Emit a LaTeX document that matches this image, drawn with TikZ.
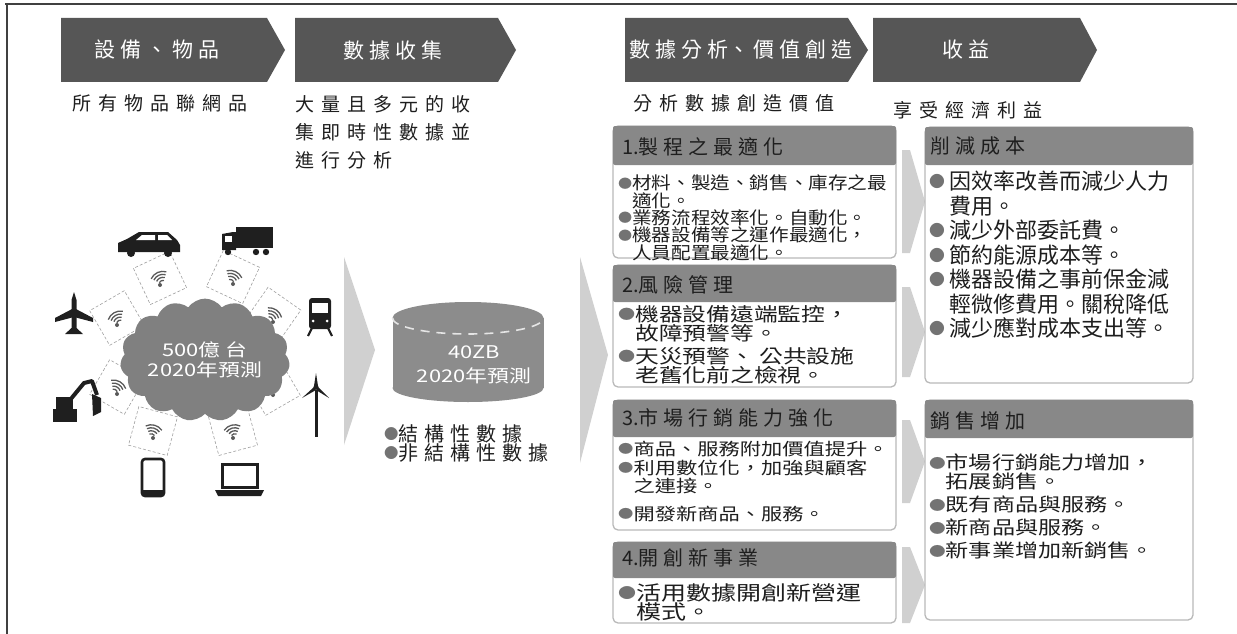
\documentclass[tikz,border=0pt]{standalone}
\usepackage{fontspec}
\setmainfont{Noto Sans CJK TC}
\newfontfamily\widecjk[FakeStretch=1.25]{Noto Sans CJK TC}
\newfontfamily\midcjk[FakeStretch=1.12]{Noto Sans CJK TC}
\usetikzlibrary{shapes.symbols}

\definecolor{chevgray}{RGB}{86,86,86}
\definecolor{bargray}{RGB}{136,136,136}
\definecolor{wedgegray}{RGB}{208,208,208}
\definecolor{cloudgray}{RGB}{128,128,128}
\definecolor{cylgray}{RGB}{140,140,140}
\definecolor{inkgray}{RGB}{30,30,30}
\definecolor{bulgray}{RGB}{115,115,115}

\newcommand{\bul}{{\color{bulgray}\raisebox{0.1em}{\scalebox{0.72}{●}}}}
\newcommand{\bulgap}{\hphantom{\scalebox{0.72}{●}}}

\tikzset{
  chev/.style={fill=chevgray},
  chevtext/.style={text=white,inner sep=0pt,font=\fontsize{21}{24}\selectfont\spaceskip 5pt\relax},
  subtext/.style={inner sep=0pt,text=inkgray,align=left,font=\fontsize{19}{28}\selectfont\spaceskip 7pt\relax},
  wedge/.style={fill=wedgegray},
  panel/.style={fill=white,draw=gray!55,line width=1.3pt,rounded corners=5pt},
  bar/.style={fill=bargray,rounded corners=2pt},
  bartext/.style={anchor=west,inner sep=0pt,text=inkgray,font=\fontsize{20}{24}\selectfont\spaceskip 5pt\relax},
  items/.style={anchor=north west,inner sep=0pt,align=left,text=inkgray},
  icon/.style={fill=black!88},
  wifibox/.style={draw=gray!75,densely dashed,line width=0.6pt},
  wifi/.style={draw=gray!70!black,line width=1.3pt},
}

\begin{document}
\begin{tikzpicture}[x=1pt,y=-1pt]
\useasboundingbox (0,0) rectangle (1237,634);
%\draw[help lines,step=50] (0,0) grid (1237,634);

% frame
\draw[line width=1.5pt,black!75] (5,4) -- (1237,4);
\draw[line width=1.5pt,black!75] (7,4) -- (7,634);

% step chevrons
\fill[chev] (61,18) -- (267,18) -- (285,50) -- (267,82) -- (61,82) -- cycle;
\fill[chev] (295,18) -- (498,18) -- (516,50) -- (498,82) -- (295,82) -- cycle;
\fill[chev] (625,18) -- (848,18) -- (868,50) -- (848,82) -- (625,82) -- cycle;
\fill[chev] (873,18) -- (1080,18) -- (1097,50) -- (1080,82) -- (873,82) -- cycle;
\node[chevtext] (hdThing) at (157,50) {設 備 、 物 品};
\node[chevtext] (hdData) at (393,50) {數 據 收 集};
\node[chevtext] (hdValue) at (741,50) {數 據 分 析、 價 值 創 造};
\node[chevtext] (hdGain) at (966,50) {收 益};

% line under each step
\node[subtext,anchor=west] (subThing) at (72,103) {所 有 物 品 聯 網 品};
\node[subtext,anchor=north west] (subData) at (295,95) {大 量 且 多 元 的 收\\集 即 時 性 數 據 並\\進 行 分 析};
\node[subtext,anchor=west] (subValue) at (633,103) {分 析 數 據 創 造 價 值};
\node[subtext,anchor=west] (subGain) at (893,110) {享 受 經 濟 利 益};

% big grey arrows
\fill[wedge] (344,257) -- (375,350) -- (344,445) -- cycle;
\fill[wedge] (580,257) -- (608,355) -- (580,463) -- cycle;
\foreach \ya/\yb in {150/253,287/377,420/503,547/623}
  \fill[wedge] (902,\ya) -- (910,\ya) -- (925,{(\ya+\yb)/2}) -- (910,\yb) -- (902,\yb) -- cycle;

% things around the cloud
\foreach \x/\y/\r in {160/278/25,233/277/-25,117/318/30,273/315/-35,117/387/-30,273/388/30,153/431/-15,233/431/15}{
  \draw[wifibox,rotate around={\r:(\x,\y)}] (\x-20,\y-20) rectangle (\x+20,\y+20);
  \foreach \k in {4,7,10,13}
    \draw[wifi,rotate around={\r:(\x,\y)}] (\x,\y+7) ++(230:\k) arc[start angle=230,end angle=310,radius=\k];
  \fill[gray!70!black] (\x,\y+7) circle (2pt);
}
\node[cloud,cloud puffs=15,cloud puff arc=110,aspect=1.5,fill=cloudgray,minimum width=140pt,minimum height=95pt,
  text=white,align=center,inner sep=0pt,font=\widecjk\fontsize{17.5}{20}\selectfont] (things) at (205,360) {500億 台\\2020年預測};

% car
\fill[icon] (118,252) -- (118,243) -- (127,239) -- (139,232) -- (168,232) -- (177,240) -- (180,245) -- (180,252) -- cycle;
\fill[white] (142,235) -- (155,235) -- (155,240) -- (136,240) -- cycle;
\fill[white] (158,235) -- (167,235) -- (172,240) -- (158,240) -- cycle;
\fill[icon] (131,253) circle (4pt) (168,253) circle (4pt);
% truck
\fill[icon] (236,227) rectangle (273,248);
\fill[icon] (222,234) -- (233,232) -- (236,232) -- (236,250) -- (222,250) -- cycle;
\fill[white] (225,236) rectangle (232,242);
\fill[icon] (228,252) circle (3.2pt) (256,252) circle (3.2pt) (266,252) circle (3.2pt);
% plane
\fill[icon] (74,292) -- (76.5,300) -- (76.5,328) -- (83,334) -- (65,334) -- (71.5,328) -- (71.5,300) -- cycle;
\fill[icon] (55,318) -- (74,308) -- (93,318) -- (93,322) -- (74,317) -- (55,322) -- cycle;
% train
\fill[icon,rounded corners=3pt] (309,298) rectangle (331,329);
\fill[white] (312,303) rectangle (328,313);
\fill[white] (313,321) circle (1.5pt) (327,321) circle (1.5pt);
\draw[line width=2.2pt,black!88] (312,328) -- (308,336) (328,328) -- (332,336);
% excavator
\fill[icon] (53,409) rectangle (77,422);
\fill[icon] (56,397) rectangle (73,410);
\draw[line width=4pt,black!88,line join=round] (70,400) -- (84,383) -- (92,381) -- (97,395);
\fill[icon] (92,394) -- (101,398) -- (101,412) -- (93,416) -- cycle;
% wind turbine
\draw[line width=3pt,black!88] (316,390) -- (316,437);
\fill[icon] (316,373) -- (318,386) -- (314,386) -- cycle;
\fill[icon] (302,398) -- (314,387) -- (316,390) -- cycle;
\fill[icon] (329,398) -- (318,387) -- (316,390) -- cycle;
\fill[icon] (316,387) circle (2.5pt);
% phone
\draw[line width=2.6pt,black!88,rounded corners=3pt] (142,459) rectangle (164,496);
\fill[icon] (142,490) rectangle (164,496);
% laptop
\draw[line width=3pt,black!88] (222,464) rectangle (257,487);
\fill[icon] (215,490) -- (264,490) -- (261,496) -- (218,496) -- cycle;

% data store
\fill[cylgray] (468,388) ellipse [x radius=75.5,y radius=14];
\fill[cylgray] (392.5,318) rectangle (543.5,388);
\fill[cylgray] (468,318) ellipse [x radius=75.5,y radius=16];
\draw[white!80!gray,line width=1.6pt,dash pattern=on 9pt off 7pt] (392.5,318) arc[start angle=180,end angle=0,x radius=75.5,y radius=16];
\node[text=white,align=center,inner sep=0pt,font=\widecjk\fontsize{17.5}{24}\selectfont] (store) at (474,365) {40ZB\\2020年預測};
\node[items,text=inkgray,font=\fontsize{20}{19.5}\selectfont\spaceskip 6pt\relax] (kinds) at (384,424) {\bul 結 構 性 數 據\\\bul 非 結 構 性 數 據};

% analysis panels
\draw[panel] (613,126) rectangle (896,258);
\fill[bar] (613,126) rectangle (896,165);
\node[bartext] (opt) at (622,147) {1.製 程 之 最 適 化};
\node[items,font=\midcjk\fontsize{17.5}{16}\selectfont] (optList) at (618,175)
  {\bul 材料、製造、銷售、庫存之最\\\bulgap 適化。\\\bul 業務流程效率化。自動化。\\\bul 機器設備等之運作最適化，\\\bulgap 人員配置最適化。};

\draw[panel] (613,265) rectangle (896,387);
\fill[bar] (613,265) rectangle (896,302);
\node[bartext] (risk) at (622,285) {2.風 險 管 理};
\node[items,font=\widecjk\fontsize{19}{19.5}\selectfont] (riskList) at (618,305)
  {\bul 機器設備遠端監控，\\\bulgap 故障預警等。\\[3pt]\bul 天災預警、 公共設施\\\bulgap 老舊化前之檢視。};

\draw[panel] (613,400) rectangle (896,530);
\fill[bar] (613,400) rectangle (896,437);
\node[bartext] (mkt) at (622,418) {3.市 場 行 銷 能 力 強 化};
\node[items,font=\widecjk\fontsize{17}{18.5}\selectfont] (mktList) at (618,441)
  {\bul 商品、服務附加價值提升。\\\bul 利用數位化，加強與顧客\\\bulgap 之連接。\\[9pt]\bul 開發新商品、服務。};

\draw[panel] (613,542) rectangle (896,623);
\fill[bar] (613,542) rectangle (896,578);
\node[bartext] (biz) at (622,558) {4.開 創 新 事 業};
\node[items,font=\widecjk\fontsize{20}{17}\selectfont] (bizList) at (618,583)
  {\bul 活用數據開創新營運\\\bulgap 模式。};

% gain panels
\draw[panel] (925,127) rectangle (1193,383);
\fill[bar] (925,127) rectangle (1193,165);
\node[bartext] (cost) at (930,146) {削 減 成 本};
\node[items,font=\fontsize{22}{24.5}\selectfont] (costList) at (929,171)
  {\bul\ 因效率改善而減少人力\\\bulgap\ 費用。\\\bul\ 減少外部委託費。\\\bul\ 節約能源成本等。\\\bul\ 機器設備之事前保金減\\\bulgap\ 輕微修費用。關稅降低\\\bul\ 減少應對成本支出等。};

\draw[panel] (925,400) rectangle (1193,620);
\fill[bar] (925,400) rectangle (1193,438);
\node[bartext] (sales) at (930,421) {銷 售 增 加};
\node[items,font=\widecjk\fontsize{18.5}{19}\selectfont] (salesList) at (929,454)
  {\bul 市場行銷能力增加，\\\bulgap 拓展銷售。\\[4pt]\bul 既有商品與服務。\\[4pt]\bul 新商品與服務。\\[4pt]\bul 新事業增加新銷售。};
\end{tikzpicture}
\end{document}
